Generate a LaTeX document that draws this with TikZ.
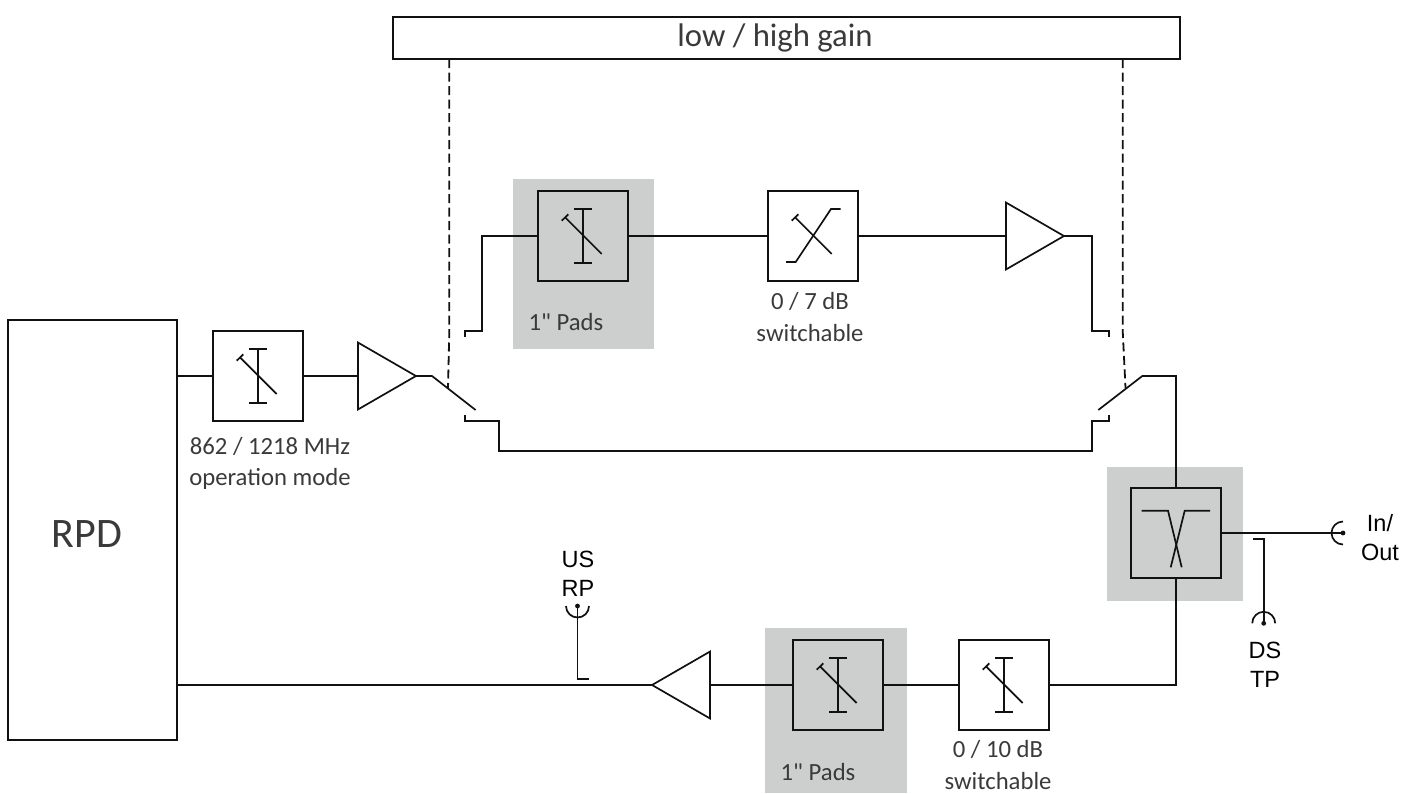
\documentclass[tikz,border=0pt]{standalone}
\usepackage{fontspec}
\setmainfont[Ligatures=TeXOff]{Carlito}
\newfontfamily\arialish{Liberation Sans}
\usetikzlibrary{shapes.geometric}
\definecolor{ln}{HTML}{111111}
\definecolor{padgray}{HTML}{CDCFCE}
\definecolor{txt}{HTML}{3A3A3A}
\newcommand{\attsym}[1]{%
  \begin{scope}[shift={(#1.center)}]
    \draw[wire] (0,-27) -- (0,27) (-9,-27) -- (9,-27) (-9,27) -- (9,27);
    \draw[wire] (-18,-18.7) -- (18.7,18) (-21.3,-15.3) -- (-14.7,-21.7);
  \end{scope}}
\newcommand{\portdot}[1]{\fill[ln] (#1) circle (2.4);}
\tikzset{
  x=1pt,y=-1pt,
  wire/.style={draw=ln,line width=1.7pt},
  dashline/.style={draw=ln,line width=1.8pt,dash pattern=on 9pt off 4.5pt},
  block/.style={draw=ln,line width=1.7pt,minimum size=90pt,inner sep=0pt,outer sep=0pt},
  amp/.style={regular polygon,regular polygon sides=3,draw=ln,line width=1.7pt,fill=white,minimum size=77.3pt,inner sep=0pt,outer sep=0pt},
  ampr/.style={amp,shape border rotate=-90},
  ampl/.style={amp,shape border rotate=90},
  bg/.style={fill=padgray,draw=none,inner sep=0pt,outer sep=0pt},
  lab/.style={text=txt,font=\fontsize{24.7}{31.5}\selectfont,align=center,inner sep=0pt},
  sanslab/.style={text=black,font=\arialish\fontsize{23.5}{29}\selectfont,align=center,inner sep=0pt}
}
\begin{document}
\begin{tikzpicture}
\useasboundingbox (0,0) rectangle (1415,793);
% grey backgrounds
\node[bg,minimum width=141pt,minimum height=170pt] (padbgA) at (583.5,264) {};
\node[bg,minimum width=136pt,minimum height=134pt] (dipbg) at (1175,534) {};
\node[bg,minimum width=142pt,minimum height=165pt] (padbgB) at (836,710.5) {};
% main blocks
\node[draw=ln,line width=1.7pt,minimum width=787pt,minimum height=42pt,inner sep=0pt,outer sep=0pt] (gain) at (786.5,38) {};
\node[text=txt,font=\fontsize{32.7}{38}\selectfont,inner sep=0pt] (gaintext) at (775,38) {low / high gain};
\node[draw=ln,line width=1.7pt,minimum width=169pt,minimum height=420pt,inner sep=0pt,outer sep=0pt] (rpd) at (92.5,530) {};
\node[text=txt,font=\fontsize{42}{48}\selectfont,inner sep=0pt] (rpdtext) at (87,534) {RPD};
\node[block] (attin) at (258,376) {};
\node[block] (attpad) at (583,236) {};
\node[block] (eq) at (813,236) {};
\node[block] (dip) at (1176,533) {};
\node[block] (attsw) at (1004,685) {};
\node[block] (attus) at (838,685) {};
\node[ampr] (ampin) at (377.3,376) {};
\node[ampr] (ampgain) at (1025.3,236) {};
\node[ampl] (ampus) at (690.7,685) {};
% symbols
\attsym{attin}\attsym{attpad}\attsym{attsw}\attsym{attus}
\begin{scope}[shift={(eq.center)}]
  \draw[wire] (-18,-18.7) -- (18.7,18) (-21.3,-15.3) -- (-14.7,-21.7);
  \draw[wire] (-27,26) -- (-17.3,26) -- (18,-27) -- (27.7,-27);
\end{scope}
\begin{scope}[shift={(dip.center)}]
  \draw[wire] (-34.3,-22.3) -- (-8,-22.3) -- (5.7,34.3);
  \draw[wire] (34,-22.3) -- (8.7,-22.3) -- (-5.3,34.3);
\end{scope}
% junction coordinates
\coordinate (swLin) at (432,376);
\coordinate (swLend) at (475.6,410);
\coordinate (swRend) at (1098.3,410);
\coordinate (swRout) at (1142.3,376);
\coordinate (swRcorner) at (1176,376);
\coordinate (tl) at (465,337);
\coordinate (bl) at (465,415);
\coordinate (tr) at (1109,337);
\coordinate (br) at (1109,415);
\coordinate (dashLa) at (449.3,59);
\coordinate (dashLb) at (449.3,331);
\coordinate (dashLc) at (448,388);
\coordinate (dashRa) at (1122.7,59);
\coordinate (dashRb) at (1122.7,331);
\coordinate (dashRc) at (1125.5,388);
\coordinate (inout) at (1343,533);
\coordinate (dstp) at (1263.7,623.3);
\coordinate (dsL) at (1252.7,539);
\coordinate (rp) at (577.5,606);
\coordinate (rpL) at (589.3,679.3);
% connectors
\draw[wire] (rpd.east |- attin.west) -- (attin.west);
\draw[wire] (attin.east) -- (ampin.west);
\draw[wire] (ampin.east) -- (swLin) -- (swLend);
\draw[wire] (tl) -- (465,331) -- (482,331) -- (482,236) -- (attpad.west);
\draw[wire] (attpad.east) -- (eq.west);
\draw[wire] (eq.east) -- (ampgain.west);
\draw[wire] (ampgain.east) -- (1091.7,236) -- (1091.7,331) -- (1109,331) -- (tr);
\draw[wire] (bl) -- (465,421) -- (499,421) -- (499,451) -- (1091.7,451) -- (1091.7,421) -- (1109,421) -- (br);
\draw[wire] (swRend) -- (swRout) -- (swRcorner) -- (dip.north);
\draw[wire] (dip.south) |- (attsw.east);
\draw[wire] (attsw.west) -- (attus.east);
\draw[wire] (attus.west) -- (ampus.east);
\draw[wire] (ampus.west) -- (rpd.east |- ampus.west);
\draw[wire] (dip.east) -- (inout);
\draw[wire] (dsL) -- (1263.7,539) -- (dstp);
\draw[wire] (rpL) -- (577.5,679.3) -- (rp);
\draw[dashline] (dashLa) -- (dashLb) -- (dashLc);
\draw[dashline] (dashRa) -- (dashRb) -- (dashRc);
% ports (the y axis points down, so arc angles run the other way round)
\portdot{inout}\portdot{dstp}\portdot{rp}
\draw[wire] (1343,521.5) arc[start angle=270,end angle=90,radius=11.5];
\draw[wire] (1252.2,623.3) arc[start angle=180,end angle=360,radius=11.5];
\draw[wire] (566,606) arc[start angle=180,end angle=0,radius=11.5];
% labels
\node[lab] (l1) at (270,463.5) {862 / 1218 MHz\\operation mode};
\node[lab] (l2) at (810,317) {0 / 7 dB\\switchable};
\node[lab] (l3) at (566,322) {1" Pads};
\node[lab] (l4) at (818,771.5) {1" Pads};
\node[lab] (l5) at (998,765) {0 / 10 dB\\switchable};
\node[sanslab] (l6) at (1380,538) {In/\\Out};
\node[sanslab] (l7) at (1265,665) {DS\\TP};
\node[sanslab] (l8) at (578,573.5) {US\\RP};
\end{tikzpicture}
\end{document}
